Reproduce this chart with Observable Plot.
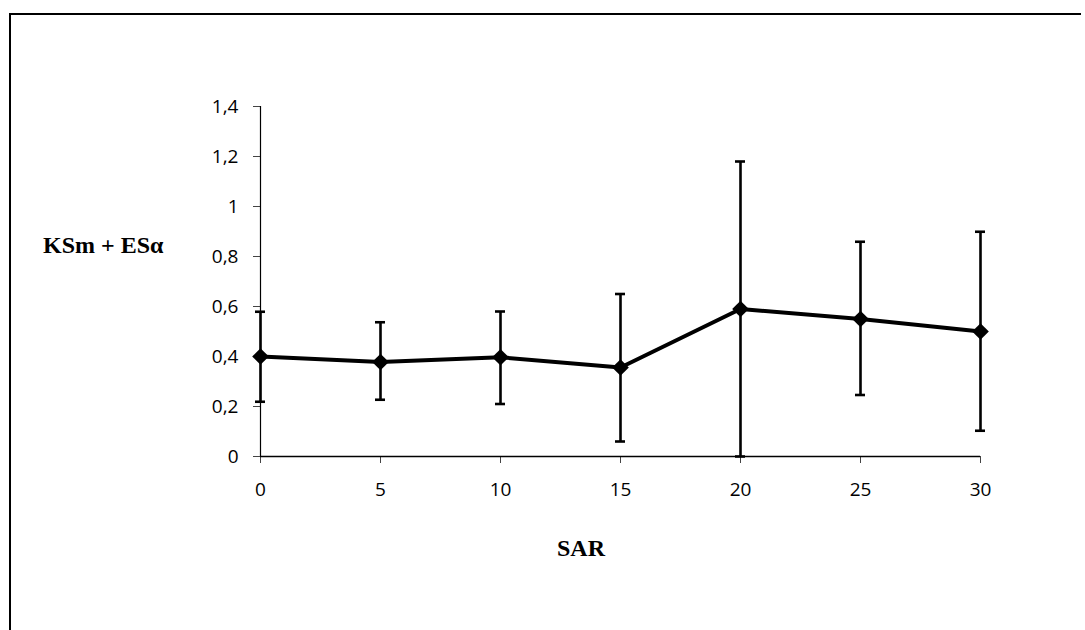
<!DOCTYPE html>
<html>
<head>
<meta charset="utf-8">
<script src="https://cdn.jsdelivr.net/npm/d3@7"></script>
<script src="https://cdn.jsdelivr.net/npm/@observablehq/plot@0.6"></script>
<style>
  html, body { margin: 0; padding: 0; background: #fff; overflow: hidden; }
  #wrap { position: relative; width: 1085px; height: 630px; overflow: hidden; background: #fff; }
  #hline { position: absolute; left: 9px; top: 13px; width: 1072px; height: 2px; background: #000; }
  #vline { position: absolute; left: 9px; top: 13px; width: 2px; height: 617px; background: #000; }
  #chart { position: absolute; left: 0; top: 0; }
  .title { position: absolute; font-family: "Liberation Serif", serif; font-weight: bold; font-size: 24px; color: #000; white-space: nowrap; line-height: 1; }
  #ylab { left: 43px; top: 233px; }
  #xlab { left: 557px; top: 536px; }
</style>
</head>
<body>
<div id="wrap">
  <div id="hline"></div>
  <div id="vline"></div>
  <div id="chart"></div>
  <div class="title" id="ylab">KSm + ESα</div>
  <div class="title" id="xlab">SAR</div>
</div>
<script>
const sar = [0, 5, 10, 15, 20, 25, 30];
const meanVal = [0.40, 0.378, 0.397, 0.356, 0.59, 0.55, 0.50];
const lowVal = [0.219, 0.227, 0.21, 0.06, 0.0, 0.246, 0.103];
const highVal = [0.579, 0.537, 0.58, 0.65, 1.18, 0.859, 0.899];
const xTicks = [0, 5, 10, 15, 20, 25, 30];
const yTicks = [0, 0.2, 0.4, 0.6, 0.8, 1, 1.2, 1.4];

const data = sar.map((x, i) => ({x, y: meanVal[i], lo: lowVal[i], hi: highVal[i]}));
const fmt = d => String(d).replace(".", ",");

const plot = Plot.plot({
  width: 1085,
  height: 630,
  marginLeft: 260,
  marginRight: 105,
  marginTop: 106,
  marginBottom: 174,
  style: {fontFamily: "'Open Sans', sans-serif", fontSize: "19px", color: "#000", background: "transparent"},
  x: {domain: [0, 30]},
  y: {domain: [0, 1.4]},
  marks: [
    Plot.axisY({ticks: yTicks, tickFormat: fmt, tickSize: 7, tickPadding: 15, label: null, stroke: "#444", fontSize: 19, fill: "#000"}),
    Plot.axisX({ticks: xTicks, tickFormat: fmt, tickSize: 7, tickPadding: 19, label: null, stroke: "#444", fontSize: 19, fill: "#000"}),
    Plot.ruleY([0], {stroke: "#000", strokeWidth: 1.5}),
    Plot.ruleX([0], {stroke: "#000", strokeWidth: 1.2}),
    Plot.ruleX(data, {x: "x", y1: "lo", y2: "hi", stroke: "#000", strokeWidth: 2.6}),
    Plot.ruleY(data, {y: "hi", x1: "x", x2: "x", insetLeft: -5, insetRight: -5, stroke: "#000", strokeWidth: 2.6}),
    Plot.ruleY(data, {y: "lo", x1: "x", x2: "x", insetLeft: -5, insetRight: -5, stroke: "#000", strokeWidth: 2.6}),
    Plot.line(data, {x: "x", y: "y", stroke: "#000", strokeWidth: 4}),
    Plot.dot(data, {x: "x", y: "y", symbol: "diamond2", r: 7.5, fill: "#000", stroke: "none"})
  ]
});
document.getElementById("chart").append(plot);
</script>
</body>
</html>
